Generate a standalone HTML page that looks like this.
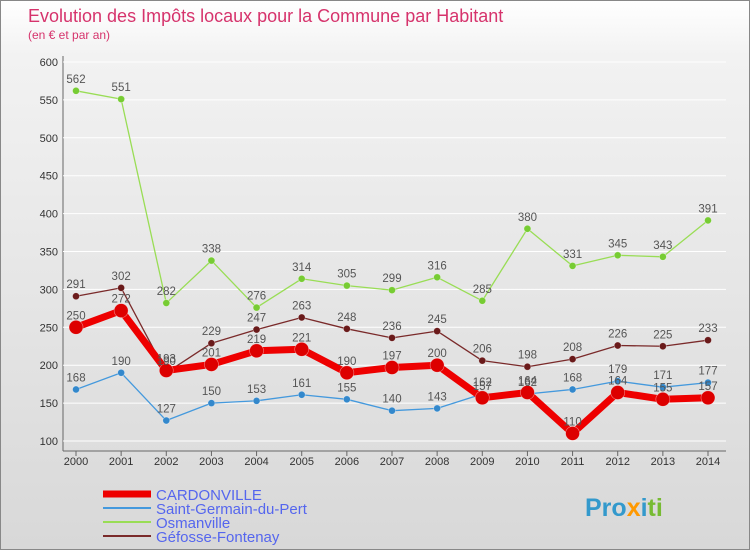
<!DOCTYPE html>
<html><head><meta charset="utf-8">
<style>
body{margin:0;width:750px;height:550px;overflow:hidden;font-family:"Liberation Sans",sans-serif;}
#wrap{position:relative;width:748px;height:548px;border:1px solid #888;background:linear-gradient(#fff,#f2f2f2 10%,#d8d8d8);}
#title{position:absolute;left:27px;top:5px;font-size:18px;color:#d6336c;}
#sub{position:absolute;left:27px;top:27px;font-size:12px;color:#d6336c;}
svg{position:absolute;left:0;top:0;}
</style></head><body>
<div id="wrap">
<div id="title">Evolution des Impôts locaux pour la Commune par Habitant</div>
<div id="sub">(en € et par an)</div>
<svg id="chart" width="750" height="550"></svg>
</div>
<script>
const years=[2000,2001,2002,2003,2004,2005,2006,2007,2008,2009,2010,2011,2012,2013,2014];
const cardonville=[250,272,193,201,219,221,190,197,200,157,164,110,164,155,157];
const saintGermain=[168,190,127,150,153,161,155,140,143,162,162,168,179,171,177];
const osmanville=[562,551,282,338,276,314,305,299,316,285,380,331,345,343,391];
const gefosse=[291,302,190,229,247,263,248,236,245,206,198,208,226,225,233];
const yTicks=[100,150,200,250,300,350,400,450,500,550,600];
const NS="http://www.w3.org/2000/svg";
const svg=document.getElementById('chart');
const X=i=>75+i*(707-75)/14;
const Y=v=>440-(v-100)*(440-61)/500;
function mk(t,a,p){const e=document.createElementNS(NS,t);for(const k in a)e.setAttribute(k,a[k]);(p||svg).appendChild(e);return e;}
let ax=mk('line',{x1:62,y1:55,x2:62,y2:450,stroke:'#666'});


let ax2=mk('line',{x1:62,y1:450,x2:725,y2:450,stroke:'#666'});


yTicks.forEach(v=>{
  let g=mk('line',{x1:62,y1:Y(v),x2:725,y2:Y(v),stroke:'#fff','stroke-width':1});
  
  
  let t=mk('text',{x:57,y:Y(v)+4,'text-anchor':'end','font-size':11,fill:'#333'});t.textContent=v;
  
  
});
years.forEach((y,i)=>{
  mk('line',{x1:X(i),y1:450,x2:X(i),y2:455,stroke:'#666'});
  let t=mk('text',{x:X(i),y:464,'text-anchor':'middle','font-size':11,fill:'#333'});t.textContent=y;
  
  
});
const series=[
 {d:osmanville,c:'#99dd55',dot:'#77cc33',w:1.3,r:3.5,n:'osmanville'},
 {d:gefosse,c:'#7a2a2a',dot:'#6a1a1a',w:1.3,r:3.5,n:'gefosse-fontenay'},
 {d:saintGermain,c:'#4499dd',dot:'#3388cc',w:1.3,r:3.5,n:'saint-germain'},
 {d:cardonville,c:'#ee0000',dot:'#dd0000',w:7,r:7,n:'cardonville'}];
series.forEach(s=>{
  let p=mk('polyline',{points:s.d.map((v,i)=>X(i)+','+Y(v)).join(' '),fill:'none',stroke:s.c,'stroke-width':s.w,'stroke-linejoin':'round'});
  
  
  s.d.forEach((v,i)=>{
    let c=mk('circle',{cx:X(i),cy:Y(v),r:s.r,fill:s.dot,stroke:'#fff','stroke-width':0.6,'stroke-opacity':0.5});
    
    
  });
});
series.forEach(s=>{
  s.d.forEach((v,i)=>{
    let t=mk('text',{x:X(i),y:Y(v)-8,'text-anchor':'middle','font-size':11.5,fill:'#555'});t.textContent=v;
    
    
  });
});
const leg=[['CARDONVILLE','#ee0000',7],['Saint-Germain-du-Pert','#4499dd',2],['Osmanville','#99dd55',2],['Géfosse-Fontenay','#7a2a2a',2]];
leg.forEach((l,i)=>{
  let y=493+i*14;
  let ln=mk('line',{x1:102,y1:y,x2:150,y2:y,stroke:l[1],'stroke-width':l[2]});
  
  
  let t=mk('text',{x:155,y:y+6,'font-size':15,fill:'#5566ee'});t.textContent=l[0];
  
  
});
let logo=mk('text',{x:584,y:515,'font-size':25,'font-weight':'bold',fill:'#3399cc'});
logo.innerHTML='<tspan fill="#3399cc">Pro</tspan><tspan fill="#ff9900">x</tspan><tspan fill="#3399cc">i</tspan><tspan fill="#77bb33">ti</tspan>';


</script>
</body></html>
